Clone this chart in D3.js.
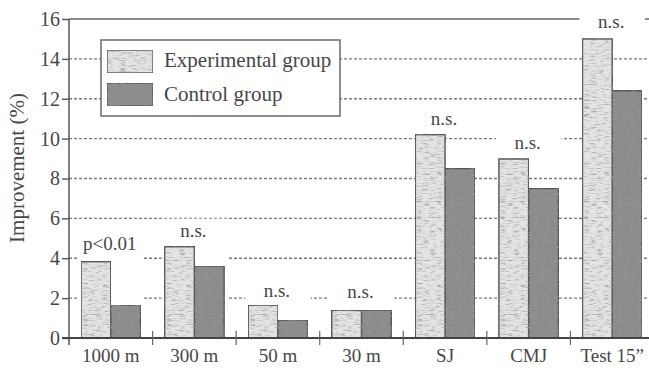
<!DOCTYPE html>
<html><head><meta charset="utf-8">
<script src="https://cdn.jsdelivr.net/npm/d3@7"></script>
</head>
<body style="margin:0;padding:0;background:#fff">
<svg id="chart" width="649" height="370"></svg>
<script>
const categories = ["1000 m","300 m","50 m","30 m","SJ","CMJ","Test 15\u201D"];
const seriesNames = ["Experimental group","Control group"];
const experimental = [3.83, 4.58, 1.65, 1.39, 10.2, 8.98, 15.0];
const control = [1.65, 3.61, 0.9, 1.4, 8.5, 7.5, 12.4];
const noteText = ["p<0.01","n.s.","n.s.","n.s.","n.s.","n.s.","n.s."];
const noteLevel = [4.41, 5.07, 2.06, 2.0, 10.68, 9.48, 15.55];
const noteFullMask = [true, true, true, true, false, false, false];
const yTicks = [0,2,4,6,8,10,12,14,16];

(function(){
const FONT = '"Liberation Serif"';
const TXT = "#474747";
const svg = d3.select("#chart");
const pLeft = 69, pRight = 654, pTop = 19, base = 338;
const y = d3.scaleLinear().domain([0,16]).range([base, pTop]);
const x0 = d3.scaleBand().domain(categories).range([pLeft, pRight]).paddingInner(0).paddingOuter(0);
const x1 = d3.scaleBand().domain(seriesNames).range([0, x0.bandwidth()]).paddingInner(0).paddingOuter(0.405);
const colors = {"Experimental group":"#e4e4e4","Control group":"#8c8c8c"};

const defs = svg.append("defs");
const f = defs.append("filter").attr("id","grain").attr("x",0).attr("y",0).attr("width",1).attr("height",1);
f.append("feTurbulence").attr("type","fractalNoise").attr("baseFrequency","0.15 0.7").attr("numOctaves",2).attr("seed",4).attr("result","t");
f.append("feColorMatrix").attr("in","t").attr("type","matrix")
  .attr("values","0 0 0 0 0.3  0 0 0 0 0.3  0 0 0 0 0.3  2.4 0 0 0 -1.15").attr("result","spk");
f.append("feComposite").attr("in","spk").attr("in2","SourceGraphic").attr("operator","in").attr("result","spk2");
const fm = f.append("feMerge");
fm.append("feMergeNode").attr("in","SourceGraphic");
fm.append("feMergeNode").attr("in","spk2");

// gridlines
const grid = svg.append("g");
yTicks.filter(d=>d>0).forEach(d=>{
  grid.append("line").attr("x1",pLeft).attr("x2",649).attr("y1",y(d)).attr("y2",y(d))
    .attr("stroke", d===16 ? "#666" : "#7a7a7a")
    .attr("stroke-width", d===16 ? 1.6 : 1.3)
    .attr("stroke-dasharray", d===16 ? null : "3,2");
});

// annotation masks
const noteFs = 19;
const groups = categories.map((c,i)=>({c, i, e:experimental[i], k:control[i]}));
svg.append("g").selectAll("rect").data(groups).join("rect")
  .attr("x", d=>x0(d.c)+x1(seriesNames[0])-3)
  .attr("width", 2*x1.bandwidth()+6)
  .attr("y", d=>y(noteLevel[d.i]) - noteFs*0.75 - 4)
  .attr("height", d=>{
    const t = y(noteLevel[d.i]) - noteFs*0.75 - 4;
    const b = noteFullMask[d.i] ? base : y(Math.max(d.e,d.k));
    return b - t;
  })
  .attr("fill","#fff");

// legend
const lg = svg.append("g");
lg.append("rect").attr("x",101).attr("y",40).attr("width",239).attr("height",76)
  .attr("fill","#fff").attr("stroke","#6a6a6a").attr("stroke-width",1.5);
seriesNames.forEach((s,i)=>{
  lg.append("rect").attr("x",107).attr("y",50+i*33).attr("width",46).attr("height",23)
    .attr("fill",colors[s]).attr("stroke","#555").attr("stroke-width",1.4).attr("filter","url(#grain)");
  lg.append("text").attr("x",164).attr("y",67+i*34)
    .style("font-family",FONT).style("font-size","21px").style("fill",TXT).text(s);
});

// bars
const bg = svg.append("g").selectAll("g").data(groups).join("g")
  .attr("transform", d=>`translate(${x0(d.c)},0)`);
bg.selectAll("rect").data(d=>[{s:seriesNames[0],v:d.e},{s:seriesNames[1],v:d.k}]).join("rect")
  .attr("x", d=>x1(d.s)).attr("width", x1.bandwidth())
  .attr("y", d=>y(d.v)).attr("height", d=>base - y(d.v))
  .attr("fill", d=>colors[d.s]).attr("stroke","#555").attr("stroke-width",1.5)
  .attr("filter","url(#grain)");

// annotations
svg.append("g").selectAll("text").data(groups).join("text")
  .attr("x", d=>x0(d.c)+x0.bandwidth()/2 - 1)
  .attr("y", d=>y(noteLevel[d.i]))
  .attr("text-anchor","middle")
  .style("font-family",FONT).style("font-size",noteFs+"px").style("fill",TXT)
  .text(d=>noteText[d.i]);

// y axis
const yAxis = d3.axisLeft(y).tickValues(yTicks).tickSize(7).tickPadding(2).tickFormat(d3.format("d"));
const ya = svg.append("g").attr("transform",`translate(${pLeft},0)`).call(yAxis);
ya.select(".domain").remove();
ya.selectAll(".tick line").attr("stroke","#555").attr("stroke-width",1.4);
ya.selectAll(".tick text").style("font-family",FONT).style("font-size","20px").style("fill",TXT);
svg.append("line").attr("x1",pLeft).attr("x2",pLeft).attr("y1",pTop).attr("y2",345)
  .attr("stroke","#555").attr("stroke-width",1.5);

// x axis
svg.append("line").attr("x1",pLeft-7).attr("x2",649).attr("y1",base).attr("y2",base)
  .attr("stroke","#444").attr("stroke-width",2);
const xa = svg.append("g").attr("transform",`translate(0,${base})`)
  .call(d3.axisBottom(x0).tickSize(0).tickPadding(11));
xa.select(".domain").remove();
xa.selectAll(".tick text").style("font-family",FONT).style("font-size","19px").style("fill",TXT);
svg.append("g").selectAll("line").data(categories.slice(1)).join("line")
  .attr("x1",d=>x0(d)).attr("x2",d=>x0(d)).attr("y1",base-7).attr("y2",base+7)
  .attr("stroke","#666").attr("stroke-width",1.2);

// y title
svg.append("text").attr("transform","translate(24,168) rotate(-90)")
  .attr("text-anchor","middle")
  .style("font-family",FONT).style("font-size","21px").style("fill",TXT)
  .text("Improvement (%)");
})();
</script>
</body></html>
